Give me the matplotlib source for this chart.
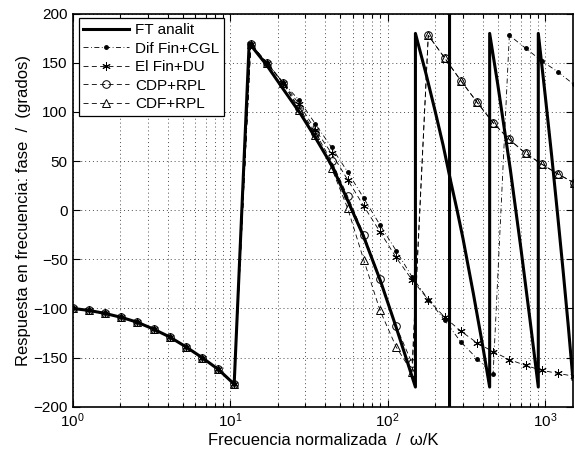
import numpy as np
import matplotlib.pyplot as plt

plt.rcParams['font.family'] = ['Liberation Sans', 'DejaVu Sans']
plt.rcParams['mathtext.fontset'] = 'custom'
plt.rcParams['mathtext.rm'] = 'Liberation Sans'

# frecuencias de muestreo de los metodos numericos
w = [1.00, 1.27, 1.60, 2.03, 2.57, 3.26, 4.13, 5.23, 6.63, 8.40,
     10.6, 13.5, 17.1, 21.6, 27.4, 34.7, 44.0, 55.7, 70.6, 89.4,
     113, 143, 181, 230, 291, 369, 467, 592, 750, 950, 1200, 1521]

low = [-100, -102, -105, -109, -114, -121, -129, -139, -150, -162,
       -177, 169, 150, 130]

dif_fin_cgl = low + [112, 88, 64, 39, 12, -15, -41, -68, -91, -112,
                     -134, -151, -167, 178, 165, 152, 141, 128]
el_fin_du = low + [108, 82, 58, 31, 4, -22, -48, -71, -91, -109,
                   -123, -135, -144, -152, -158, -163, -166, -169]
cdp_rpl = low + [104, 79, 50, 14, -25, -70, -118, -156, 178, 155,
                 132, 110, 89, 72, 58, 47, 37, 28]
cdf_rpl = low + [102, 77, 43, 2, -51, -102, -139, -165, 178, 155,
                 132, 110, 89, 72, 58, 47, 37, 28]

# solucion analitica (fase envuelta)
ft_w = [1.00, 1.27, 1.60, 2.03, 2.57, 3.26, 4.13, 5.23, 6.63, 8.40,
        10.6, 13.2, 17, 22, 28, 35, 44, 55, 70, 90, 112, 130, 150,
        150, 175, 200, 225, 250, 275, 300, 350, 400, 444,
        444, 500, 600, 700, 800, 904,
        904, 1000, 1100, 1200, 1300, 1400, 1500,
        np.nan, 247, 247]
ft_phase = [-100, -102, -105, -109, -114, -121, -129, -139, -150, -162,
            -177, 170, 148, 122, 98, 73, 46, 12, -26, -72, -117, -149, -180,
            180, 139, 101, 66, 31, 1, -28, -85, -137, -180,
            180, 128, 42, -38, -111, -180,
            180, 117, 55, -5, -62, -117, -172,
            np.nan, 250, -250]

fig = plt.figure(figsize=(5.75, 4.58), dpi=100)
ax = fig.add_axes([0.1264, 0.112, 0.870, 0.858])

ax.plot(ft_w, ft_phase, '-', color='black', linewidth=2.2, label='FT analit')
ax.plot(w, dif_fin_cgl, '-.', color='black', linewidth=0.6, marker='.',
        markersize=5, dashes=(6, 3, 1, 3), label='Dif Fin+CGL')
ax.plot(w, el_fin_du, '--', color='black', linewidth=0.6, marker=(6, 2, 0),
        markersize=6, markeredgewidth=0.7, dashes=(6, 4), label='El Fin+DU')
ax.plot(w, cdp_rpl, '--', color='black', linewidth=0.6, marker='o',
        markersize=5.5, markerfacecolor='none', markeredgewidth=0.7,
        dashes=(6, 4), label='CDP+RPL')
ax.plot(w, cdf_rpl, '--', color='black', linewidth=0.6, marker='^',
        markersize=6, markerfacecolor='none', markeredgewidth=0.7,
        dashes=(6, 4), label='CDF+RPL')

ax.set_xscale('log')
ax.set_xlim(1, 1500)
ax.set_ylim(-200, 200)
ax.set_yticks(np.arange(-200, 201, 50))

ax.grid(True, which='major', linestyle=(0, (1, 3)), color='0.3', linewidth=0.7)
ax.grid(True, which='minor', axis='x', linestyle=(0, (1, 3)), color='0.3',
        linewidth=0.7)

ax.tick_params(which='both', direction='in', top=True, right=True,
               labelsize=11, width=0.8)
ax.tick_params(which='major', length=5)
ax.tick_params(which='minor', length=3)
for s in ax.spines.values():
    s.set_linewidth(1.2)

ax.set_xlabel('Frecuencia normalizada  /  ω/K', fontsize=12, labelpad=2)
ax.set_ylabel('Respuesta en frecuencia: fase  /  (grados)', fontsize=12, labelpad=2)

leg = ax.legend(loc='upper left', bbox_to_anchor=(0.012, 0.988), borderaxespad=0,
                fontsize=11, handlelength=3, fancybox=False, edgecolor='black',
                framealpha=1, labelspacing=0.3, borderpad=0.3, handletextpad=0.4)
leg.get_frame().set_linewidth(0.9)

plt.savefig('out.png')
